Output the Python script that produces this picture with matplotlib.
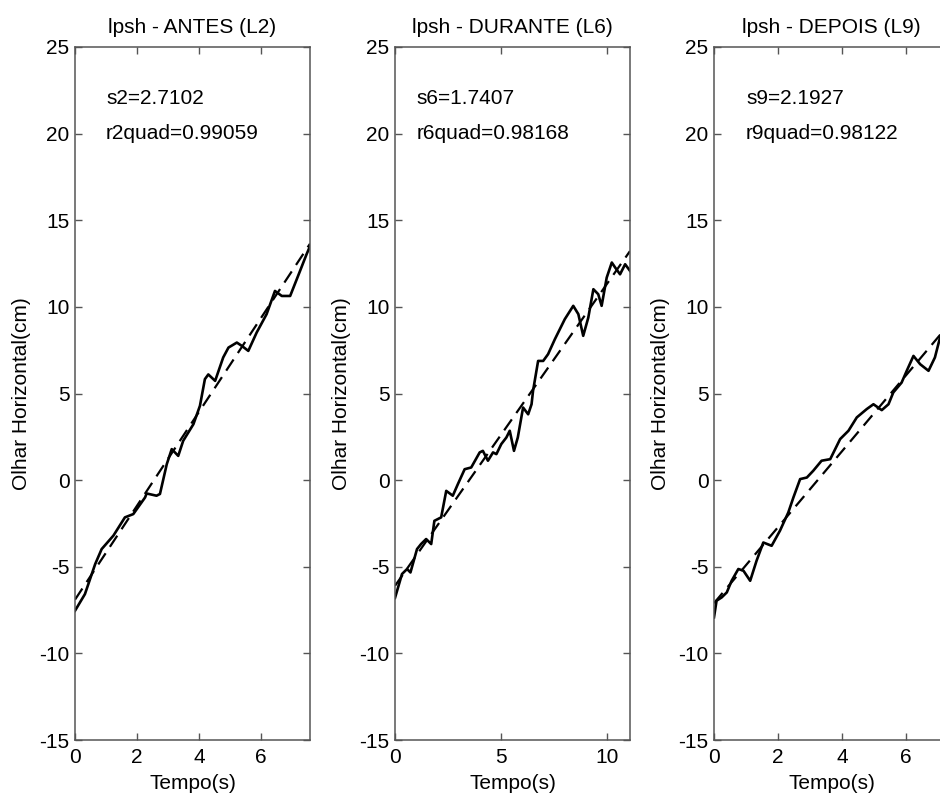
import numpy as np
import matplotlib.pyplot as plt

plt.rcParams['font.family'] = ['Liberation Sans', 'DejaVu Sans']
plt.rcParams['font.size'] = 15
plt.rcParams['axes.unicode_minus'] = False

# %% data
titles = ["lpsh - ANTES (L2)", "lpsh - DURANTE (L6)", "lpsh - DEPOIS (L9)"]
xlims = [7.58, 11.1, 7.34]
xticks = [[0, 2, 4, 6], [0, 5, 10], [0, 2, 4, 6]]
yticks = [-15, -10, -5, 0, 5, 10, 15, 20, 25]

t_l2 = [0.0, 0.32, 0.65, 0.86, 1.24, 1.61, 1.88, 2.26, 2.31, 2.63, 2.74, 2.96, 3.12,
        3.33, 3.49, 3.82, 4.03, 4.19, 4.30, 4.52, 4.78, 4.95, 5.22, 5.38, 5.59, 5.86,
        6.18, 6.45, 6.67, 6.94, 7.26, 7.47, 7.58]
y_l2 = [-7.54, -6.58, -4.85, -3.98, -3.2, -2.15, -1.96, -1.0, -0.77, -0.9, -0.8, 0.92,
        1.79, 1.4, 2.27, 3.23, 4.29, 5.83, 6.1, 5.73, 7.08, 7.65, 7.94, 7.75, 7.46, 8.52,
        9.58, 10.92, 10.63, 10.63, 12.08, 13.04, 13.5]

t_l6 = [0.0, 0.33, 0.57, 0.73, 1.04, 1.23, 1.47, 1.71, 1.86, 2.18, 2.42, 2.73, 2.97,
        3.29, 3.6, 4.0, 4.15, 4.39, 4.63, 4.79, 5.02, 5.26, 5.42, 5.62, 5.8, 6.05, 6.29,
        6.45, 6.52, 6.76, 7.0, 7.23, 7.55, 8.02, 8.42, 8.66, 8.89, 9.13, 9.37, 9.6, 9.76,
        10.0, 10.24, 10.4, 10.63, 10.87, 11.1]
y_l6 = [-6.8, -5.42, -5.13, -5.33, -3.98, -3.69, -3.4, -3.69, -2.35, -2.15, -0.62,
        -0.9, -0.23, 0.63, 0.73, 1.6, 1.69, 1.12, 1.6, 1.5, 2.08, 2.46, 2.85, 1.69, 2.46,
        4.19, 3.8, 4.38, 5.15, 6.88, 6.88, 7.27, 8.13, 9.29, 10.06, 9.58, 8.33, 9.38,
        11.02, 10.73, 10.06, 11.69, 12.56, 12.27, 11.88, 12.46, 12.08]

t_l9 = [0.0, 0.08, 0.24, 0.40, 0.55, 0.76, 0.92, 1.13, 1.33, 1.54, 1.80, 2.06, 2.32,
        2.48, 2.69, 2.9, 3.1, 3.36, 3.63, 3.94, 4.2, 4.46, 4.77, 4.98, 5.24, 5.45, 5.6,
        5.86, 6.02, 6.23, 6.44, 6.7, 6.9, 7.06, 7.3]
y_l9 = [-7.92, -6.96, -6.77, -6.48, -5.81, -5.13, -5.23, -5.81, -4.65, -3.6, -3.79,
        -2.92, -1.87, -1.0, 0.06, 0.15, 0.54, 1.12, 1.21, 2.37, 2.85, 3.62, 4.1, 4.38,
        4.04, 4.38, 5.06, 5.63, 6.31, 7.17, 6.69, 6.31, 7.08, 8.23, 8.9]

# linear fits: slope s, intercept b, r^2
slopes = [2.7102, 1.7407, 2.1927]
intercepts = [-6.9, -6.1, -7.1]
r2 = [0.99059, 0.98168, 0.98122]
names = ["2", "6", "9"]

series = [(t_l2, y_l2), (t_l6, y_l6), (t_l9, y_l9)]

# %% figure
fig = plt.figure(figsize=(9.4, 7.94), dpi=100)
lefts = [75 / 940, 395 / 940, 714 / 940]
for i, (t, y) in enumerate(series):
    ax = fig.add_axes([lefts[i], 54 / 794, 235 / 940, 693 / 794])
    ax.plot(t, y, color='black', lw=1.9, solid_joinstyle='round')
    xf = np.array([0, xlims[i]])
    ax.plot(xf, intercepts[i] + slopes[i] * xf, color='black', lw=1.6,
            dashes=(6, 3.5))
    ax.set_xlim(0, xlims[i])
    ax.set_ylim(-15, 25)
    ax.set_xticks(xticks[i])
    ax.set_yticks(yticks)
    ax.tick_params(direction='in', top=True, right=True, length=5,
                   color='#555555', width=1)
    ax.tick_params(axis='x', pad=6)
    ax.tick_params(axis='y', pad=4)
    for s in ax.spines.values():
        s.set_color('#555555')
        s.set_linewidth(1.1)
    ax.set_title(titles[i], fontsize=15, pad=10)
    ax.set_xlabel("Tempo(s)", labelpad=5)
    ax.set_ylabel("Olhar Horizontal(cm)", labelpad=6)
    ax.text(1, 22, f"s{names[i]}={slopes[i]}", va='center')
    ax.text(1, 20, f"r{names[i]}quad={r2[i]}", va='center')

fig.savefig("out.png", dpi=100)
